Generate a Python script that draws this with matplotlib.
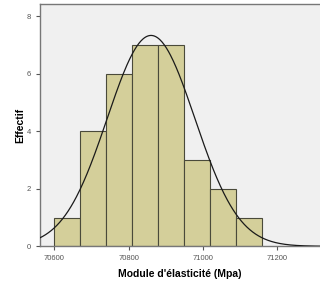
import numpy as np
import matplotlib.pyplot as plt

# Histogramme
bin_edges = [70600, 70670, 70740, 70810, 70880, 70950, 71020, 71090, 71160]
counts = [1, 4, 6, 7, 7, 3, 2, 1]

# Courbe normale ajustée
mean_val = 70860
std_val = 118
n_obs = 31

x_ticks = [70600, 70800, 71000, 71200]
y_ticks = [0, 2, 4, 6, 8]

plt.rcParams["font.family"] = ["Liberation Sans", "DejaVu Sans"]

fig = plt.figure(figsize=(3.2, 2.82), dpi=100)
ax = fig.add_axes([40 / 320, 35.7 / 282, 280 / 320, 242.3 / 282])
ax.set_facecolor("#F0F0F0")

widths = np.diff(bin_edges)
ax.bar(bin_edges[:-1], counts, width=widths, align="edge",
       color="#D4CF9A", edgecolor="#4A4A3A", linewidth=0.8, zorder=2)

xs = np.linspace(70561, 71315, 400)
bw = widths[0]
ys = n_obs * bw / (std_val * np.sqrt(2 * np.pi)) * np.exp(-0.5 * ((xs - mean_val) / std_val) ** 2)
ax.plot(xs, ys, color="#1A1A1A", linewidth=0.9, zorder=3)

ax.set_xlim(70561, 71315)
ax.set_ylim(0, 8.43)
ax.set_xticks(x_ticks)
ax.set_yticks(y_ticks)
ax.tick_params(labelsize=5.5, labelcolor="#555555", color="#555555",
               length=3, width=0.8)

for side in ["left", "top", "bottom"]:
    ax.spines[side].set_color("#777777")
    ax.spines[side].set_linewidth(1.0)
ax.spines["right"].set_visible(False)

ax.set_xlabel("Module d'élasticité (Mpa)", fontsize=7.5, fontweight="bold", labelpad=5)
ax.set_ylabel("Effectif", fontsize=7.5, fontweight="bold", labelpad=1)

fig.savefig("out.png", dpi=100)
